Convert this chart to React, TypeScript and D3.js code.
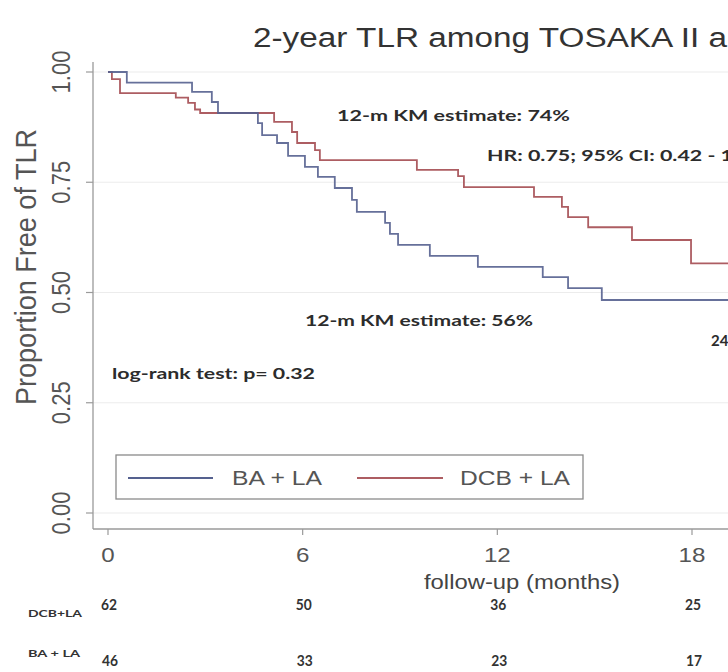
import React from "react";
import * as d3 from "d3";

// ---------- data ----------
const titleText = "2-year TLR among TOSAKA II a";
const yTicks = [0, 0.25, 0.5, 0.75, 1.0];
const xTicks = [0, 6, 12, 18];

// BA + LA (blue)
const baTimes = [0, 0.58, 2.59, 3.2, 3.39, 4.62, 4.75, 5.21, 5.55, 6.07, 6.47, 6.99, 7.52, 7.67, 8.54, 8.69, 8.94, 9.92, 11.4, 13.4, 14.18, 15.22, 20];
const baSurv = [1.0, 0.976, 0.955, 0.932, 0.907, 0.884, 0.857, 0.839, 0.81, 0.785, 0.762, 0.737, 0.71, 0.683, 0.658, 0.633, 0.608, 0.583, 0.558, 0.535, 0.51, 0.483, 0.483];

// DCB + LA (red)
const dcbTimes = [0, 0.12, 0.37, 2.09, 2.47, 2.68, 2.84, 5.12, 5.67, 5.83, 6.38, 6.53, 9.52, 10.79, 10.97, 13.13, 13.99, 14.18, 14.8, 16.15, 17.97, 20];
const dcbSurv = [1.0, 0.984, 0.952, 0.942, 0.93, 0.915, 0.907, 0.887, 0.864, 0.839, 0.823, 0.8, 0.778, 0.764, 0.739, 0.717, 0.694, 0.671, 0.648, 0.619, 0.566, 0.566];

const riskTimes = [0, 6, 12, 18];
const dcbAtRisk = [62, 50, 36, 25];
const baAtRisk = [46, 33, 23, 17];

const legendLabels = ["BA + LA", "DCB + LA"];
const annoKM12red = "12-m KM estimate: 74%";
const annoKM12blue = "12-m KM estimate: 56%";
const annoHR = "HR: 0.75; 95% CI: 0.42 - 1";
const annoLogRank = "log-rank test: p= 0.32";
const annoKM24 = "24";

const BLUE = "#55618f";
const RED = "#ad5d62";
const SANS = "'Liberation Sans', Arial, sans-serif";
const BOLD = "Lato, 'Open Sans', sans-serif";

export default function App() {
  const W = 728, H = 672;
  const x = d3.scaleLinear().domain([0, 18]).range([108, 692]);
  const y = d3.scaleLinear().domain([0, 1]).range([513, 72]);
  const line = d3
    .line<[number, number]>()
    .x((d) => x(d[0]))
    .y((d) => y(d[1]))
    .curve(d3.curveStepAfter);
  const baPts = baTimes.map((t, i) => [t, baSurv[i]] as [number, number]);
  const dcbPts = dcbTimes.map((t, i) => [t, dcbSurv[i]] as [number, number]);

  const axisX = 93;
  const axisY = 529;

  return (
    <svg
      width={W}
      height={H}
      viewBox={`0 0 ${W} ${H}`}
      style={{ position: "absolute", left: 0, top: 0, background: "#fff", display: "block" }}
    >
      <rect x={0} y={0} width={W} height={H} fill="#fff" />
      {/* title */}
      <text x={253} y={47} fontFamily={SANS} fontSize={27} fill="#333" textLength={474} lengthAdjust="spacingAndGlyphs">
        {titleText}
      </text>

      {/* grid lines */}
      {yTicks.map((v) => (
        <line key={"g" + v} x1={axisX} x2={W} y1={y(v)} y2={y(v)} stroke="#ececec" strokeWidth={1.2} />
      ))}

      {/* axes */}
      <line x1={axisX} x2={axisX} y1={62} y2={axisY} stroke="#9a9a9a" strokeWidth={1.3} />
      <line x1={axisX} x2={W} y1={axisY} y2={axisY} stroke="#9a9a9a" strokeWidth={1.3} />
      {yTicks.map((v) => (
        <g key={"yt" + v}>
          <line x1={axisX - 7} x2={axisX} y1={y(v)} y2={y(v)} stroke="#9a9a9a" strokeWidth={1.2} />
          <text
            transform={`translate(70,${y(v)}) scale(1.15,1) rotate(-90)`}
            textAnchor="middle"
            fontFamily={SANS}
            fontSize={22}
            fill="#555"
          >
            {v.toFixed(2)}
          </text>
        </g>
      ))}
      {xTicks.map((t) => (
        <g key={"xt" + t}>
          <line x1={x(t)} x2={x(t)} y1={axisY} y2={axisY + 6} stroke="#9a9a9a" strokeWidth={1.2} />
          <text
            transform={`translate(${x(t)},562) scale(1.15,1)`}
            textAnchor="middle"
            fontFamily={SANS}
            fontSize={21}
            fill="#555"
          >
            {t}
          </text>
        </g>
      ))}

      {/* axis titles */}
      <text
        transform={`translate(36,267) scale(1.1,1) rotate(-90)`}
        textAnchor="middle"
        fontFamily={SANS}
        fontSize={26}
        fill="#555"
        textLength={276}
        lengthAdjust="spacingAndGlyphs"
      >
        Proportion Free of TLR
      </text>
      <text x={424} y={589} fontFamily={SANS} fontSize={20} fill="#444" textLength={196} lengthAdjust="spacingAndGlyphs">
        follow-up (months)
      </text>

      {/* curves */}
      <path d={line(dcbPts) || ""} fill="none" stroke={RED} strokeWidth={1.8} />
      <path d={line(baPts) || ""} fill="none" stroke={BLUE} strokeWidth={1.8} strokeOpacity={0.9} />

      {/* annotations */}
      <text x={337} y={121} fontFamily={BOLD} fontWeight={700} fontSize={15} fill="#2c2c2c" textLength={233} lengthAdjust="spacingAndGlyphs">
        {annoKM12red}
      </text>
      <text x={487} y={161} fontFamily={BOLD} fontWeight={700} fontSize={15} fill="#2c2c2c" textLength={246} lengthAdjust="spacingAndGlyphs">
        {annoHR}
      </text>
      <text x={305} y={326} fontFamily={BOLD} fontWeight={700} fontSize={15} fill="#2c2c2c" textLength={228} lengthAdjust="spacingAndGlyphs">
        {annoKM12blue}
      </text>
      <text x={711} y={346} fontFamily={BOLD} fontWeight={700} fontSize={15} fill="#2c2c2c">
        {annoKM24}
      </text>
      <text x={112} y={379} fontFamily={BOLD} fontWeight={700} fontSize={15} fill="#2c2c2c" textLength={203} lengthAdjust="spacingAndGlyphs">
        {annoLogRank}
      </text>

      {/* legend */}
      <rect x={116} y={455} width={467} height={44} fill="#fff" stroke="#8a8a8a" strokeWidth={1.3} />
      <line x1={128} x2={213} y1={478} y2={478} stroke={BLUE} strokeWidth={1.8} />
      <text x={232} y={485} fontFamily={SANS} fontSize={20} fill="#555" textLength={90} lengthAdjust="spacingAndGlyphs">
        {legendLabels[0]}
      </text>
      <line x1={357} x2={443} y1={478} y2={478} stroke={RED} strokeWidth={1.8} />
      <text x={460} y={485} fontFamily={SANS} fontSize={20} fill="#555" textLength={110} lengthAdjust="spacingAndGlyphs">
        {legendLabels[1]}
      </text>

      {/* numbers at risk */}
      <text x={28} y={617} fontFamily={BOLD} fontWeight={700} fontSize={10} fill="#333" textLength={54} lengthAdjust="spacingAndGlyphs">
        DCB+LA
      </text>
      <text x={28} y={657} fontFamily={BOLD} fontWeight={700} fontSize={10} fill="#333" textLength={52} lengthAdjust="spacingAndGlyphs">
        BA + LA
      </text>
      {riskTimes.map((t, i) => (
        <text
          key={"rd" + t}
          x={x(t) + 1}
          y={610}
          textAnchor="middle"
          fontFamily={BOLD}
          fontWeight={700}
          fontSize={15}
          fill="#333"
          textLength={16}
          lengthAdjust="spacingAndGlyphs"
        >
          {dcbAtRisk[i]}
        </text>
      ))}
      {riskTimes.map((t, i) => (
        <text
          key={"rb" + t}
          x={x(t) + 2}
          y={666}
          textAnchor="middle"
          fontFamily={BOLD}
          fontWeight={700}
          fontSize={16}
          fill="#333"
          textLength={16}
          lengthAdjust="spacingAndGlyphs"
        >
          {baAtRisk[i]}
        </text>
      ))}
    </svg>
  );
}
